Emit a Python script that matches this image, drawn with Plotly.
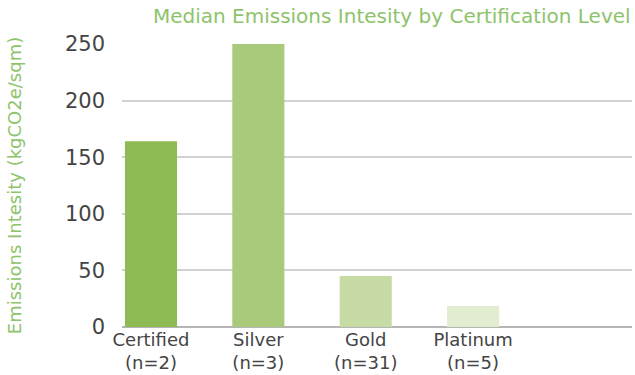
import plotly.graph_objects as go

categories = ["Certified<br>(n=2)", "Silver<br>(n=3)", "Gold<br>(n=31)", "Platinum<br>(n=5)"]
values = [164, 250, 45, 18.5]
colors = ["#8fbb55", "#a9c97b", "#c7dca5", "#e1ecd0"]
yticks = [0, 50, 100, 150, 200, 250]
positions = [0, 1, 2, 3]

FONT = "DejaVu Sans, sans-serif"

fig = go.Figure(go.Bar(x=positions, y=values, marker=dict(color=colors, line=dict(width=0)), width=0.485))

fig.update_layout(
    width=635, height=375,
    margin=dict(l=122, r=3, t=44, b=48),
    paper_bgcolor="white", plot_bgcolor="white",
    font=dict(family=FONT, color="#444444"),
    title=dict(text="Median Emissions Intesity by Certification Level", x=0.617, xanchor="center",
               y=0.957, yanchor="middle", font=dict(size=20, color="#8dc36a", family=FONT)),
    showlegend=False,
)
fig.update_xaxes(range=[-0.27, 4.48], tickvals=positions, ticktext=categories, showgrid=False,
                 zeroline=False, showline=False, ticks="", ticklabelstandoff=0, automargin=False,
                 tickfont=dict(size=18, color="#444444", family=FONT))
fig.update_yaxes(range=[0, 250], tickvals=yticks, showgrid=True, gridcolor="#d2d2d2", gridwidth=1.5,
                 zeroline=True, zerolinecolor="#b5b5b5", zerolinewidth=1.5, automargin=False,
                 tickfont=dict(size=21, color="#444444", family=FONT), ticklabelstandoff=16,
                 title=dict(text="Emissions Intesity (kgCO2e/sqm)", standoff=38,
                            font=dict(size=18, color="#8dc36a", family=FONT)))

fig.write_html("out.html")
